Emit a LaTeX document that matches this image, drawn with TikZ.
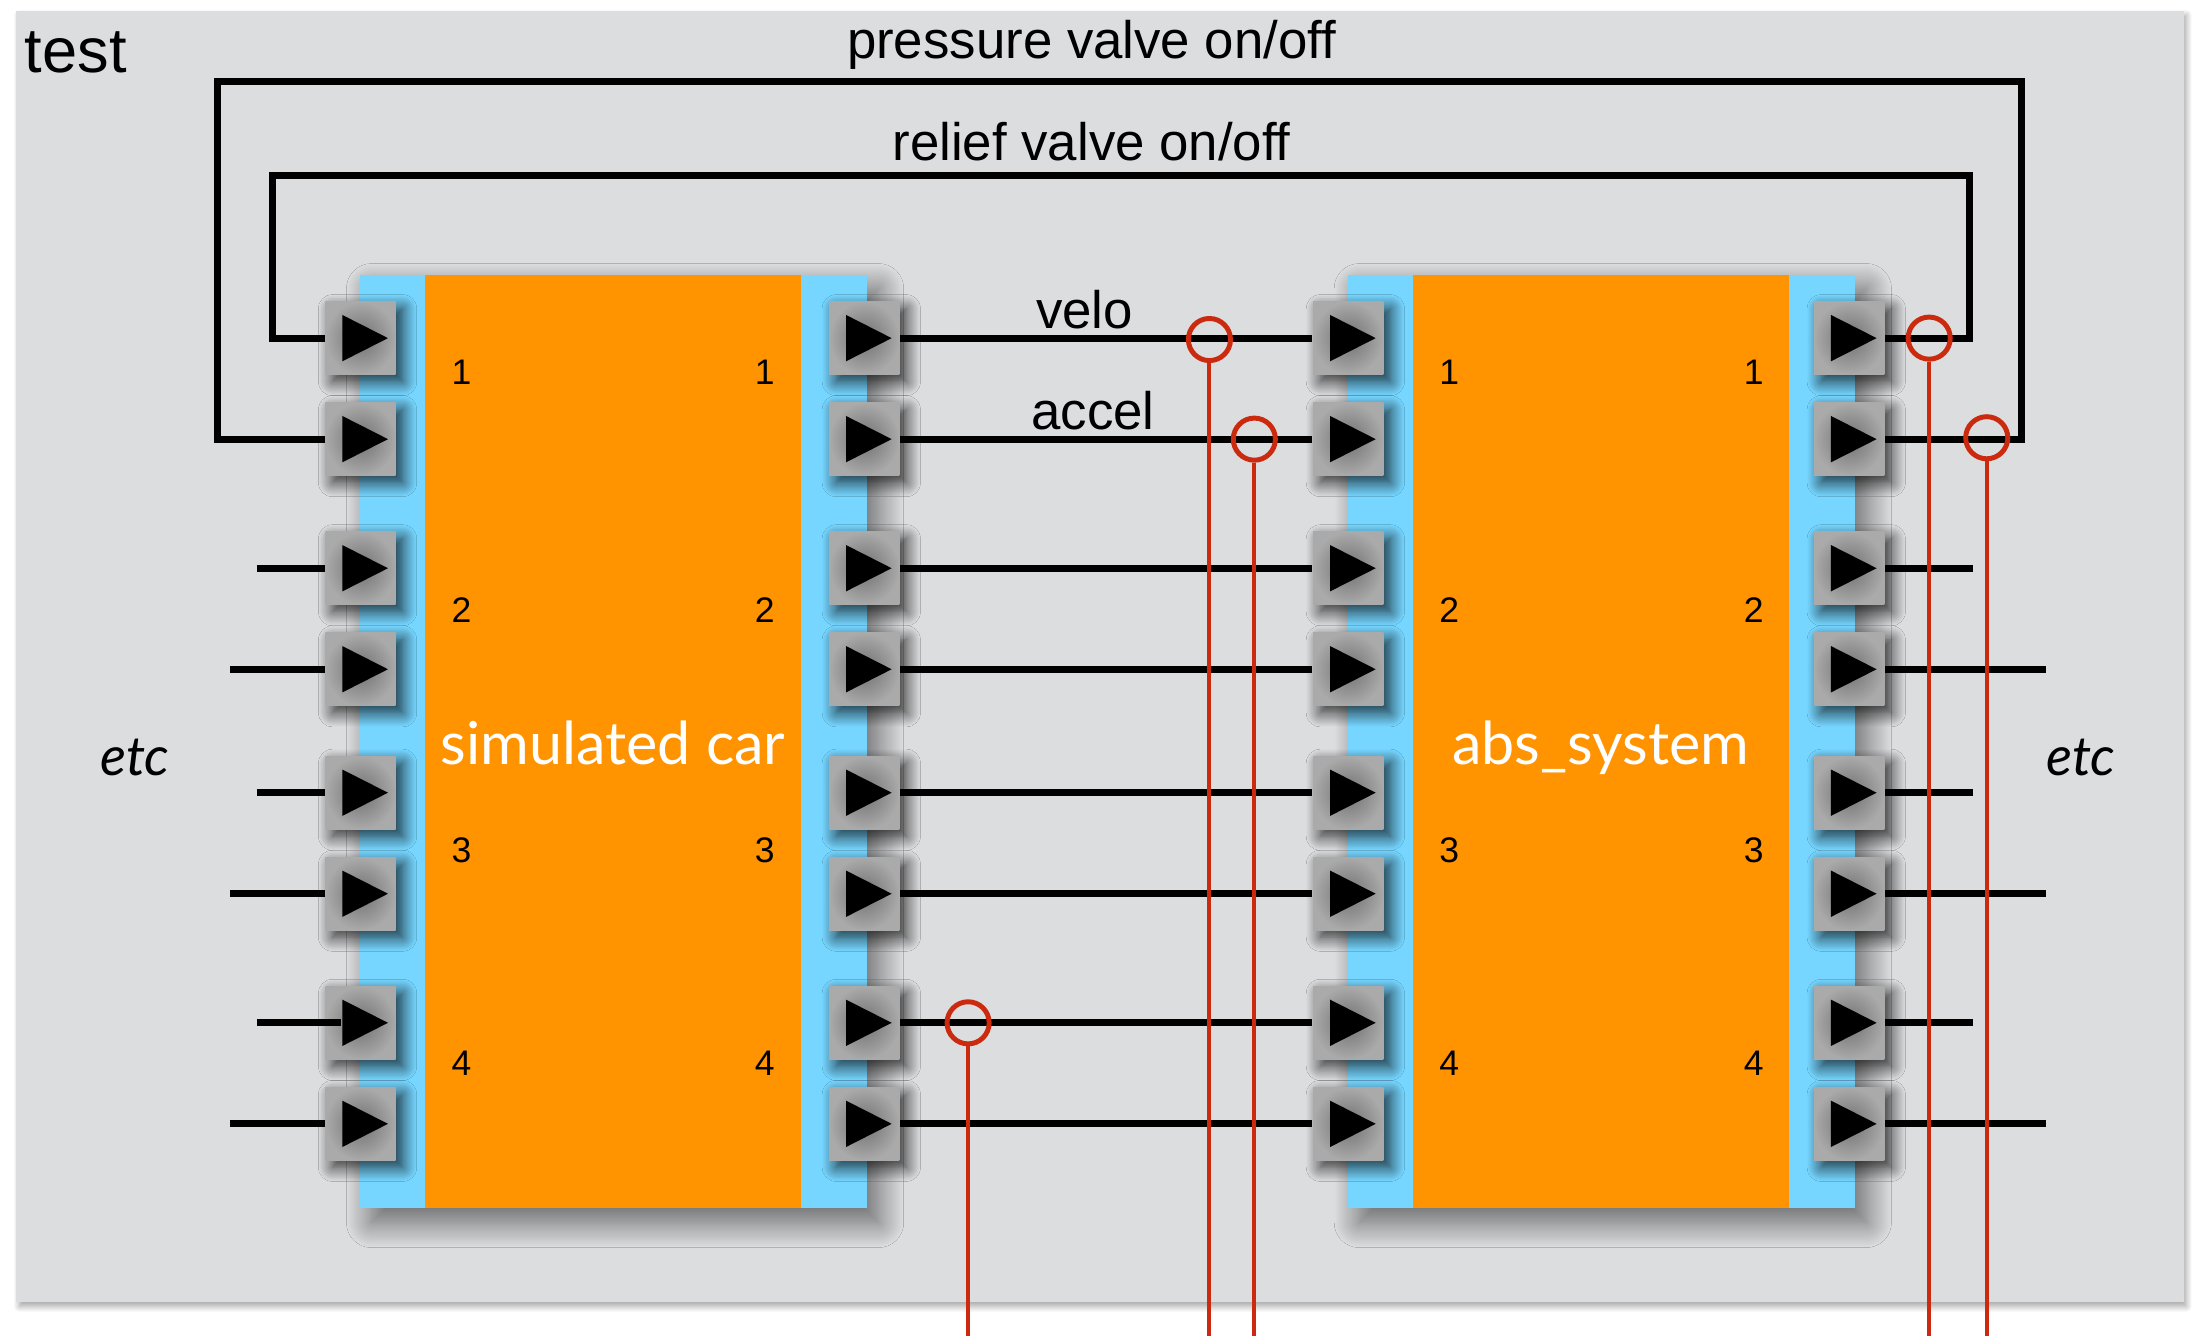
\documentclass[tikz,border=0pt]{standalone}
\usepackage{fontspec}
\setmainfont{Liberation Sans}
\newfontfamily\blockfont{Lato}
\usetikzlibrary{positioning}
\usetikzlibrary{shadows.blur}
\definecolor{figPanel}{RGB}{220,221,223}
\definecolor{figOrange}{RGB}{255,147,0}
\definecolor{figBlue}{RGB}{118,214,255}
\definecolor{figPortLight}{RGB}{170,170,170}
\definecolor{figPortDark}{RGB}{112,112,112}
\definecolor{figProbe}{RGB}{204,42,14}
\tikzset{
  panel/.style={
    rectangle, fill=figPanel, inner sep=0pt,
    blur shadow={shadow xshift=0.02cm, shadow yshift=-0.03cm, shadow blur radius=0.04cm,
      shadow blur steps=12, shadow opacity=35}
  },
  block/.style={
    rectangle, fill=figBlue, minimum width=3.61cm, minimum height=6.65cm, inner sep=0pt,
    blur shadow={shadow xshift=0.08cm, shadow yshift=-0.1cm, shadow blur radius=0.18cm,
      shadow blur steps=24, shadow opacity=55}
  },
  core/.style={
    rectangle, fill=figOrange, minimum width=2.68cm, minimum height=6.65cm, inner sep=0pt,
    text=white, font=\blockfont\fontsize{12}{14}\selectfont, text height=0.37cm, text depth=0.04cm
  },
  port/.style={
    rectangle, minimum width=0.5cm, minimum height=0.52cm, inner sep=0pt,
    shade, inner color=figPortDark, outer color=figPortLight,
    blur shadow={shadow xshift=0.05cm, shadow yshift=-0.05cm, shadow blur radius=0.1cm,
      shadow blur steps=16, shadow opacity=80},
    path picture={
      \fill[black] ([xshift=-0.13cm, yshift=0.165cm]path picture bounding box.center)
        -- ([xshift=0.195cm]path picture bounding box.center)
        -- ([xshift=-0.13cm, yshift=-0.165cm]path picture bounding box.center) -- cycle;
    }
  },
  num/.style={inner sep=0pt, font=\fontsize{7.2}{8}\selectfont},
  lbl/.style={inner sep=0pt, font=\fontsize{10.7}{12}\selectfont},
  etcl/.style={inner sep=0pt, font=\blockfont\itshape\fontsize{11}{13}\selectfont},
  wire/.style={line width=1.4pt, draw=black},
  probe/.style={circle, draw=figProbe, line width=1pt, minimum size=0.3cm, inner sep=0pt},
  probeline/.style={line width=0.8pt, draw=figProbe}
}

\begin{document}
\begin{tikzpicture}[x=0.01cm, y=-0.01cm]
  \useasboundingbox (0,0) rectangle (1568,952);
  \node[panel, minimum width=15.44cm, minimum height=9.2cm] (bg) at (784,468) {};
  \node[anchor=base west, inner sep=0pt, font=\fontsize{12.8}{14}\selectfont] (title) at (17,52) {test};

  \node[block] (car) at (437.5,528.5) {};
  \node[core] (car-core) at (437,528.5) {simulated car};
  \node[block] (abs) at (1141.5,528.5) {};
  \node[core] (abs-core) at (1141,528.5) {abs\_system};

  \foreach \n/\y in {1/265,2/435,3/606,4/758} {
    \node[num] (car-nl-\n) at (329,\y) {\n};
    \node[num] (car-nr-\n) at (545,\y) {\n};
    \node[num] (abs-nl-\n) at (1033,\y) {\n};
    \node[num] (abs-nr-\n) at (1250,\y) {\n};
  }

  \foreach \r/\y in {1/241,2/313,3/405,4/477,5/565,6/637,7/729,8/801} {
    \node[port] (car-in-\r) at (257,\y) {};
    \node[port] (car-out-\r) at (616,\y) {};
    \node[port] (abs-in-\r) at (961,\y) {};
    \node[port] (abs-out-\r) at (1318,\y) {};
  }

  \foreach \r/\y/\xl/\xr in {3/405/183/1406,4/477/164/1458,5/565/183/1406,6/637/164/1458,7/729/183/1406,8/801/164/1458} {
    \coordinate (in-\r) at (\xl,\y);
    \coordinate (out-\r) at (\xr,\y);
  }

  \coordinate (relief-l) at (194,125);
  \coordinate (relief-r) at (1404,125);
  \coordinate (press-l) at (155,58);
  \coordinate (press-r) at (1441,58);

  \foreach \r in {1,...,8}
    \draw[wire] (car-out-\r) -- (abs-in-\r);
  \foreach \r in {3,4,5,6,8}
    \draw[wire] (in-\r) -- (car-in-\r);
  \draw[wire] (in-7) -- ([xshift=0.12cm]car-in-7.west);
  \foreach \r in {3,...,8}
    \draw[wire] (abs-out-\r) -- (out-\r);

  \draw[wire] (car-in-1.west) -| (relief-l) -- (relief-r) |- (abs-out-1.east);
  \draw[wire] (car-in-2.west) -| (press-l) -- (press-r) |- (abs-out-2.east);

  \node[lbl] (press-lbl) at (778,32) {pressure valve on/off};
  \node[lbl] (relief-lbl) at (778,101) {relief valve on/off};
  \node[lbl] (velo-lbl) at (773,221) {velo};
  \node[lbl] (accel-lbl) at (779,293) {accel};

  \node[etcl] (etc-l) at (96,540) {etc};
  \node[etcl] (etc-r) at (1483,540) {etc};

  \node[probe] (pr-brake) at (690,729) {};
  \node[probe] (pr-velo) at (862,242) {};
  \node[probe] (pr-accel) at (894,313) {};
  \node[probe] (pr-relief) at (1375,241) {};
  \node[probe] (pr-press) at (1416,312) {};
  \foreach \p/\x in {brake/690,velo/862,accel/894,relief/1375,press/1416} {
    \coordinate (pr-\p-end) at (\x,960);
    \draw[probeline] (pr-\p) -- (pr-\p-end);
  }
\end{tikzpicture}
\end{document}
